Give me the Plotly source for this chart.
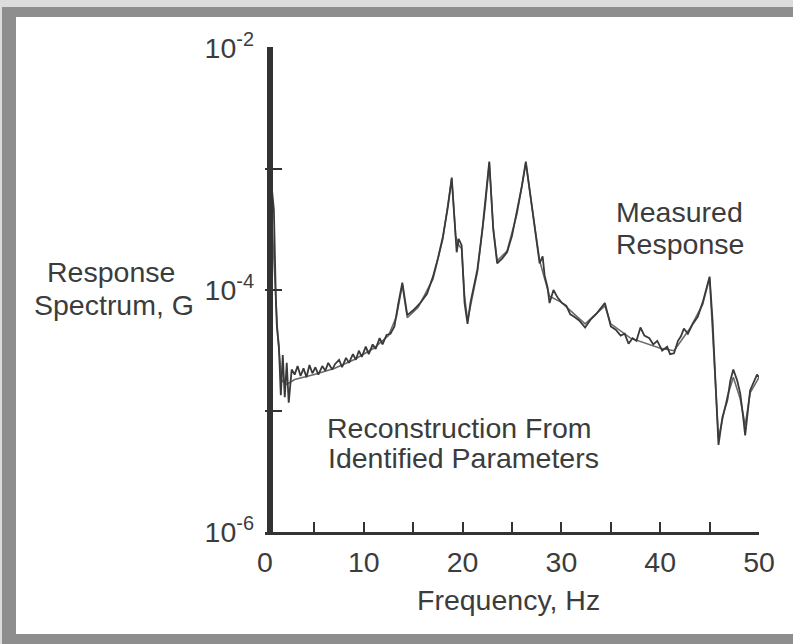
import plotly.graph_objects as go

# ---- data ----
meas_f = [0.5, 0.9, 1.1, 1.2, 1.4, 1.6, 1.8, 2.0, 2.2, 2.4, 2.7, 3.0, 3.3, 3.6, 3.9, 4.2, 4.5, 4.8,
          5.1, 5.4, 5.8, 6.1, 6.4, 6.8, 7.1, 7.5, 7.8, 8.2, 8.5, 8.9, 9.2, 9.5, 9.8, 10.2, 10.5,
          10.9, 11.2, 11.6, 11.9, 12.3, 12.7, 13.1, 13.5, 13.9, 14.4, 15.0, 15.7, 16.4, 17.0,
          17.5, 18.0, 18.5, 18.9, 19.2, 19.4, 19.6, 19.9, 20.2, 20.5, 20.8, 21.2, 21.5, 22.0,
          22.3, 22.7, 23.1, 23.5, 24.0, 24.5, 25.0, 25.5, 26.0, 26.4, 27.0, 27.5, 27.8, 28.1,
          28.3, 28.6, 28.8, 29.2, 29.6, 30.0, 30.5, 30.9, 31.3, 31.8, 32.4, 33.0, 33.6, 34.0,
          34.4, 35.0, 35.5, 36.0, 36.4, 36.8, 37.2, 37.6, 38.0, 38.4, 38.9, 39.3, 39.7, 40.2,
          40.7, 41.0, 41.4, 41.8, 42.1, 42.4, 42.8, 43.3, 43.8, 44.3, 44.7, 45.0, 45.3, 45.6,
          45.9, 46.3, 46.8, 47.1, 47.4, 47.8, 48.1, 48.4, 48.6, 49.1, 49.5, 49.8, 50.0]
meas_g = [1.0e-3, 4.6e-4, 8.3e-5, 5.0e-5, 3.5e-5, 1.35e-5, 2.9e-5, 1.3e-5, 2.5e-5, 1.17e-5,
          2.2e-5, 2.0e-5, 2.35e-5, 1.95e-5, 2.25e-5, 1.9e-5, 2.4e-5, 2.05e-5, 2.3e-5, 2.0e-5,
          2.35e-5, 2.15e-5, 2.5e-5, 2.2e-5, 2.45e-5, 2.65e-5, 2.3e-5, 2.75e-5, 2.5e-5, 2.95e-5,
          2.65e-5, 3.15e-5, 2.8e-5, 3.4e-5, 2.95e-5, 3.55e-5, 3.25e-5, 4.0e-5, 3.55e-5, 4.25e-5,
          4.35e-5, 5.0e-5, 7.8e-5, 1.15e-4, 6.2e-5, 6.8e-5, 7.8e-5, 9.3e-5, 1.29e-4, 1.82e-4,
          2.75e-4, 4.8e-4, 8.5e-4, 3.8e-4, 2.05e-4, 2.65e-4, 2.35e-4, 7.8e-5, 5.25e-5, 7.9e-5,
          1.12e-4, 1.48e-4, 3.16e-4, 5.25e-4, 1.15e-3, 3.16e-4, 1.66e-4, 1.82e-4, 2.05e-4,
          2.8e-4, 4.35e-4, 7.2e-4, 1.15e-3, 5.25e-4, 2.5e-4, 1.66e-4, 1.9e-4, 1.32e-4, 1.05e-4,
          7.8e-5, 1.0e-4, 8.7e-5, 7.9e-5, 7.4e-5, 6.3e-5, 6.0e-5, 5.6e-5, 4.9e-5, 5.75e-5,
          6.45e-5, 7.1e-5, 7.8e-5, 5.0e-5, 4.7e-5, 4.2e-5, 4.35e-5, 3.6e-5, 4.0e-5, 3.8e-5,
          4.9e-5, 4.2e-5, 4.0e-5, 3.55e-5, 3.8e-5, 3.15e-5, 3.4e-5, 2.95e-5, 3.0e-5, 3.8e-5,
          4.15e-5, 4.8e-5, 4.35e-5, 5.25e-5, 6.0e-5, 7.9e-5, 1.05e-4, 1.29e-4, 5.6e-5, 1.6e-5,
          5.25e-6, 8.9e-6, 1.23e-5, 1.78e-5, 2.2e-5, 1.78e-5, 1.4e-5, 8.9e-6, 6.3e-6, 1.48e-5,
          1.74e-5, 2.0e-5, 1.9e-5]

rec_f = [0.5, 1.0, 1.3, 1.7, 2.2, 3.0, 5.0, 7.0, 9.0, 11.0, 12.5, 13.3, 13.9, 14.4, 15.5, 17.0,
         18.0, 18.9, 19.3, 19.6, 19.9, 20.2, 20.5, 21.5, 22.3, 22.7, 23.1, 23.5, 24.5, 25.5,
         26.4, 27.0, 27.8, 28.8, 30.0, 32.4, 34.4, 35.0, 37.0, 40.0, 41.4, 43.0, 44.3, 45.0,
         45.5, 45.9, 46.8, 47.4, 48.1, 48.6, 49.1, 50.0]
rec_g = [8.0e-4, 1.26e-4, 4.0e-5, 1.78e-5, 1.66e-5, 1.82e-5, 2.0e-5, 2.25e-5, 2.65e-5, 3.3e-5,
         4.2e-5, 6.0e-5, 1.1e-4, 5.9e-5, 7.2e-5, 1.23e-4, 2.65e-4, 8.3e-4, 2.8e-4, 2.35e-4,
         2.2e-4, 8.9e-5, 5.6e-5, 1.41e-4, 5.0e-4, 1.12e-3, 3.3e-4, 1.74e-4, 2.1e-4, 4.25e-4,
         1.12e-3, 5.0e-4, 1.74e-4, 8.9e-5, 7.9e-5, 5.25e-5, 7.4e-5, 5.25e-5, 4.0e-5, 3.3e-5,
         3.15e-5, 4.8e-5, 7.6e-5, 1.26e-4, 2.5e-5, 6.0e-6, 1.32e-5, 1.9e-5, 1.26e-5, 7.6e-6,
         1.41e-5, 1.9e-5]

x_ticks = [0, 10, 20, 30, 40, 50]
x_labels = ["0", "10", "20", "30", "40", "50"]
x_minor = [5, 15, 25, 35, 45]
y_ticks = [1e-2, 1e-4, 1e-6]
y_labels = ["10<sup>-2</sup>", "10<sup>-4</sup>", "10<sup>-6</sup>"]
y_minor = [1e-3, 1e-5]

# ---- layout geometry (pixels) ----
W, H = 793, 644
L, R, T, B = 265, 759, 48, 532
def px(x):
    return (x - L) / (R - L)
def py(y):
    return (B - y) / (B - T)

FONT = "Liberation Sans, Arial, sans-serif"
INK = "#333333"
TXT = "#3c3c3c"
FS = 28.5

fig = go.Figure()
fig.add_trace(go.Scatter(x=rec_f, y=rec_g, mode="lines", name="Reconstruction",
                         line=dict(color="#6a6a6a", width=1.6), showlegend=False))
fig.add_trace(go.Scatter(x=meas_f, y=meas_g, mode="lines", name="Measured",
                         line=dict(color="#3a3a3a", width=1.8), showlegend=False))

def band(x0, x1, y0, y1, color, layer="below"):
    return dict(type="rect", xref="paper", yref="paper", x0=px(x0), x1=px(x1), y0=py(y1), y1=py(y0),
                fillcolor=color, line=dict(width=0), layer=layer)

shapes = [
    band(0, W, 0, 7, "#dcdcdc"),
    band(0, 2, 0, H, "#dcdcdc"),
    band(2, W, 7, 17, "#8e8e8e"),
    band(2, 16, 7, H, "#8e8e8e"),
    band(2, W, 634, H, "#8e8e8e"),
    dict(type="line", xref="paper", yref="paper", x0=px(270), x1=px(270), y0=py(535), y1=py(47),
         line=dict(color=INK, width=6), layer="above"),
]

ann = []
def text(s, x, y, xanchor="left"):
    ann.append(dict(text=s, x=px(x), y=py(y), xref="paper", yref="paper", showarrow=False,
                    xanchor=xanchor, yanchor="middle", font=dict(family=FONT, size=FS, color=TXT)))

text("Measured", 614, 212)
text("Response", 614, 244)
text("Reconstruction From", 325, 428)
text("Identified Parameters", 326, 458)
text("Response", 111, 272, "center")
text("Spectrum, G", 114, 305, "center")
text("Frequency, Hz", 508, 600, "center")

fig.update_layout(
    width=W, height=H,
    margin=dict(l=L, r=W - R, t=T, b=H - B, pad=0),
    paper_bgcolor="white", plot_bgcolor="rgba(0,0,0,0)",
    shapes=shapes, annotations=ann,
    font=dict(family=FONT, size=FS, color=TXT),
)
fig.update_xaxes(range=[0, 50], tickvals=x_ticks, ticktext=x_labels, ticks="inside", ticklen=10,
                 tickwidth=1.5, tickcolor=INK, showline=True, linewidth=3, linecolor=INK,
                 showgrid=False, zeroline=False, ticklabelstandoff=3,
                 minor=dict(tickvals=x_minor, ticks="inside", ticklen=10, tickwidth=1.5,
                            tickcolor=INK, showgrid=False),
                 tickfont=dict(family=FONT, size=FS, color=TXT))
fig.update_yaxes(type="log", range=[-6, -2], tickvals=y_ticks, ticktext=y_labels, ticks="inside",
                 ticklen=17, tickwidth=1.5, tickcolor=INK, showline=False, showgrid=False,
                 zeroline=False, ticklabelstandoff=10,
                 minor=dict(tickvals=y_minor, ticks="inside", ticklen=17, tickwidth=1.5,
                            tickcolor=INK, showgrid=False),
                 tickfont=dict(family=FONT, size=FS, color=TXT))

fig.write_html("out.html", config={"displayModeBar": False},
               post_script="document.body.style.margin='0';document.body.style.overflow='hidden';"
                           "document.documentElement.style.overflow='hidden';")
